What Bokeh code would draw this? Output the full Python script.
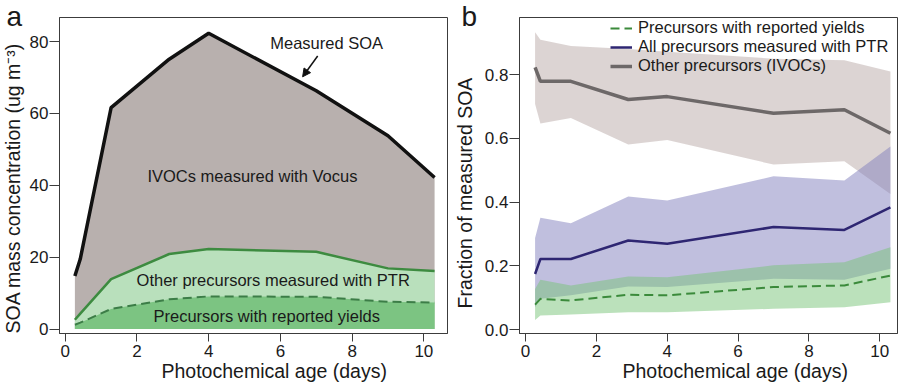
import math
from bokeh.plotting import figure
from bokeh.layouts import row
from bokeh.models import (Label, Arrow, NormalHead, Legend, LegendItem, FixedTicker,
                          Range1d, ColumnDataSource, PrintfTickFormatter, Title)
from bokeh.embed import file_html
from bokeh.resources import INLINE

# ---------------- data ----------------
ages = [0.27, 0.42, 1.28, 2.9, 4.0, 7.0, 9.0, 10.3]

# panel a: SOA mass concentration (ug m-3)
soa_measured = [14.8, 19.5, 61.6, 75.1, 82.3, 66.3, 53.8, 42.2]
soa_ptr = [2.6, 4.3, 13.9, 20.9, 22.3, 21.5, 16.9, 16.2]
soa_yields = [1.2, 1.8, 5.6, 8.3, 9.1, 9.0, 7.6, 7.4]

# panel b: fraction of measured SOA (line, upper and lower band edges)
frac_ivoc = [0.823, 0.779, 0.779, 0.722, 0.731, 0.679, 0.690, 0.616]
frac_ivoc_hi = [0.933, 0.909, 0.890, 0.880, 0.872, 0.850, 0.845, 0.810]
frac_ivoc_lo = [0.708, 0.647, 0.664, 0.581, 0.595, 0.518, 0.528, 0.426]

frac_ptr = [0.175, 0.222, 0.222, 0.280, 0.270, 0.322, 0.313, 0.384]
frac_ptr_hi = [0.288, 0.351, 0.334, 0.418, 0.405, 0.481, 0.468, 0.575]
frac_ptr_lo = [0.071, 0.097, 0.108, 0.136, 0.134, 0.160, 0.157, 0.191]

frac_yield = [0.079, 0.097, 0.092, 0.110, 0.108, 0.134, 0.139, 0.170]
frac_yield_hi = [0.128, 0.157, 0.139, 0.167, 0.165, 0.202, 0.212, 0.259]
frac_yield_lo = [0.031, 0.045, 0.048, 0.055, 0.055, 0.066, 0.071, 0.086]

x_ticks = [0, 2, 4, 6, 8, 10]
a_y_ticks = [0, 20, 40, 60, 80]
b_y_ticks = [0.0, 0.2, 0.4, 0.6, 0.8]

FONT = "Liberation Sans"
TXT = "#1a1a1a"
AX = "#3c3c3c"

src = ColumnDataSource(dict(
    x=ages, meas=soa_measured, ptr=soa_ptr, yld=soa_yields,
    zero=[0] * len(ages),
    fi=frac_ivoc, fih=frac_ivoc_hi, fil=frac_ivoc_lo,
    fp=frac_ptr, fph=frac_ptr_hi, fpl=frac_ptr_lo,
    fy=frac_yield, fyh=frac_yield_hi, fyl=frac_yield_lo,
))


def style(p, yticks, xticks):
    p.xgrid.visible = False
    p.ygrid.visible = False
    p.outline_line_color = AX
    p.outline_line_width = 1
    p.background_fill_color = "white"
    p.border_fill_color = "white"
    for ax in (p.xaxis[0], p.yaxis[0]):
        ax.axis_line_color = AX
        ax.major_tick_line_color = AX
        ax.major_tick_in = 0
        ax.minor_tick_line_color = None
        ax.major_label_text_font = FONT
        ax.major_label_text_font_size = "17px"
        ax.major_label_text_color = TXT
    p.xaxis[0].ticker = FixedTicker(ticks=xticks)
    p.yaxis[0].ticker = FixedTicker(ticks=yticks)
    p.xaxis[0].major_tick_out = 8
    p.yaxis[0].major_tick_out = 10
    p.xaxis[0].major_label_standoff = 3
    p.yaxis[0].major_label_standoff = 1


def add_text(p, text, x, y, size):
    p.add_layout(Label(x=x, y=y, text=text, text_font=FONT, text_font_size=size,
                       text_color=TXT, text_align="center", text_baseline="middle"))


def add_title(p, text, side, offset, standoff, size="19.5px", valign="top"):
    p.add_layout(Title(text=text, align="left", offset=offset, standoff=standoff,
                       text_font=FONT, text_font_size=size, text_font_style="normal",
                       text_color=TXT, vertical_align=valign), side)


# ---------------- panel a ----------------
pa = figure(width=450, height=388, output_backend="svg", toolbar_location=None,
            x_range=Range1d(-0.159, 10.66), y_range=Range1d(-1.22, 86.7),
            min_border_left=58, min_border_right=3, min_border_top=17, min_border_bottom=55)
style(pa, a_y_ticks, x_ticks)

pa.varea(x="x", y1="zero", y2="meas", source=src, fill_color="#b8b0ae")
pa.varea(x="x", y1="zero", y2="ptr", source=src, fill_color="#b9e0bc")
pa.varea(x="x", y1="zero", y2="yld", source=src, fill_color="#7cc482")
pa.line(x="x", y="yld", source=src, line_color="#3c7d47", line_width=2, line_dash="9 5")
pa.line(x="x", y="ptr", source=src, line_color="#3d8b40", line_width=2.5)
pa.line(x="x", y="meas", source=src, line_color="#111111", line_width=3.5)

pa.add_layout(Arrow(end=NormalHead(size=8, fill_color="#111111", line_color="#111111"),
                    x_start=7.04, y_start=76.0, x_end=6.62, y_end=70.2,
                    line_color="#111111", line_width=1.5))
add_text(pa, "Measured SOA", 7.29, 79.6, "16.5px")
add_text(pa, "IVOCs measured with Vocus", 5.22, 42.6, "16.5px")
add_text(pa, "Other precursors measured with PTR", 5.8, 13.6, "16.5px")
add_text(pa, "Precursors with reported yields", 5.62, 3.7, "16.5px")

add_title(pa, "a", "above", -53, -29, size="28px", valign="bottom")
add_title(pa, "Photochemical age (days)", "below", 102, 0)
add_title(pa, "SOA mass concentration (ug m\u207b\u00b3)", "left", 0, 2)

# ---------------- panel b ----------------
pb = figure(width=450, height=388, output_backend="svg", toolbar_location=None,
            x_range=Range1d(-0.17, 10.5), y_range=Range1d(-0.0116, 0.979),
            min_border_left=67, min_border_right=3, min_border_top=17, min_border_bottom=55)
style(pb, b_y_ticks, x_ticks)
pb.yaxis[0].formatter = PrintfTickFormatter(format="%.1f")

pb.varea(x="x", y1="fil", y2="fih", source=src, fill_color="#b9aaa8", fill_alpha=0.5)
pb.varea(x="x", y1="fpl", y2="fph", source=src, fill_color="#8280be", fill_alpha=0.5)
pb.varea(x="x", y1="fyl", y2="fyh", source=src, fill_color="#78c378", fill_alpha=0.5)

r_y = pb.line(x="x", y="fy", source=src, line_color="#3b8a3b", line_width=2, line_dash="9 5")
r_p = pb.line(x="x", y="fp", source=src, line_color="#2e2672", line_width=2.5)
r_i = pb.line(x="x", y="fi", source=src, line_color="#6d6868", line_width=3.5)

legend = Legend(items=[
    LegendItem(label="Precursors with reported yields", renderers=[r_y]),
    LegendItem(label="All precursors measured with PTR", renderers=[r_p]),
    LegendItem(label="Other precursors (IVOCs)", renderers=[r_i]),
], location="top_right", margin=0, padding=1, spacing=0,
    background_fill_alpha=0, border_line_alpha=0,
    glyph_width=22, glyph_height=18, label_height=18, label_width=258, label_standoff=6,
    label_text_font=FONT, label_text_font_size="16.5px", label_text_color=TXT,
    label_text_line_height=1.0)
pb.add_layout(legend)

add_title(pb, "b", "above", -58, -28, size="28px", valign="bottom")
add_title(pb, "Photochemical age (days)", "below", 103, 0)
add_title(pb, "Fraction of measured SOA", "left", 25, 7)

layout = row(pa, pb)
open("out.html", "w").write(file_html(layout, INLINE))
